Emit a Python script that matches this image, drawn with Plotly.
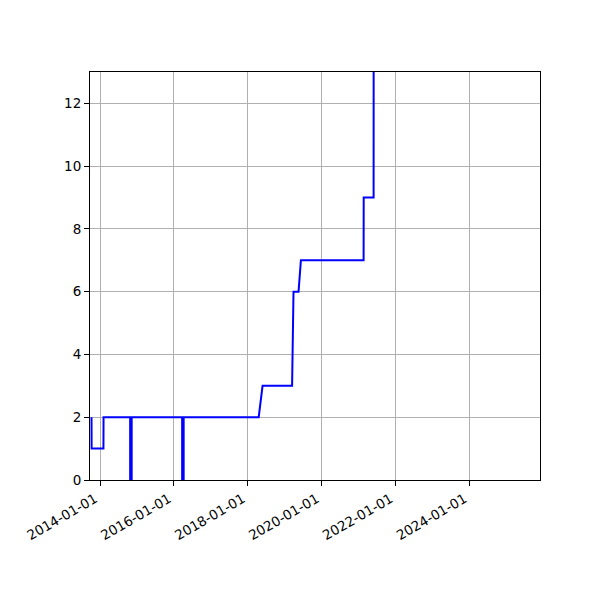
import plotly.graph_objects as go

dates = [
    "2013-10-08", "2013-10-09", "2014-02-03", "2014-02-04",
    "2014-10-25", "2014-10-25", "2014-11-09", "2014-11-09",
    "2016-03-22", "2016-03-22", "2016-04-06", "2016-04-06",
    "2018-04-18", "2018-05-26",
    "2019-03-14", "2019-03-28",
    "2019-05-17", "2019-06-09",
    "2021-02-18", "2021-02-19",
    "2021-05-28", "2021-05-29",
]
values = [
    2, 1, 1, 2,
    2, 0, 0, 2,
    2, 0, 0, 2,
    2, 3,
    3, 6,
    6, 7,
    7, 9,
    9, 20,
]
tick_dates = ["2014-01-01", "2016-01-01", "2018-01-01", "2020-01-01", "2022-01-01", "2024-01-01"]
y_ticks = [0, 2, 4, 6, 8, 10, 12]

fig = go.Figure()
fig.add_trace(go.Scatter(x=dates, y=values, mode="lines",
                         line=dict(color="#0000ff", width=2), showlegend=False))

axis_common = dict(
    showgrid=True, gridcolor="#b0b0b0", gridwidth=1,
    showline=True, linecolor="black", linewidth=1, mirror=True,
    ticks="outside", ticklen=5, tickcolor="black", tickwidth=1,
    zeroline=False,
    tickfont=dict(family="DejaVu Sans", size=13.5, color="black"),
)

fig.update_xaxes(
    type="date", range=["2013-09-23", "2025-11-28"],
    tickvals=tick_dates, ticktext=tick_dates, tickangle=-30,
    ticklabelshift=-5,
    **axis_common,
)
fig.update_yaxes(range=[0, 13], tickvals=y_ticks, ticktext=[str(v) for v in y_ticks],
                 **axis_common)

fig.update_layout(
    width=600, height=600,
    margin=dict(l=82, r=68, t=64, b=128, pad=0),
    paper_bgcolor="white", plot_bgcolor="white",
)

fig.write_html("out.html")
